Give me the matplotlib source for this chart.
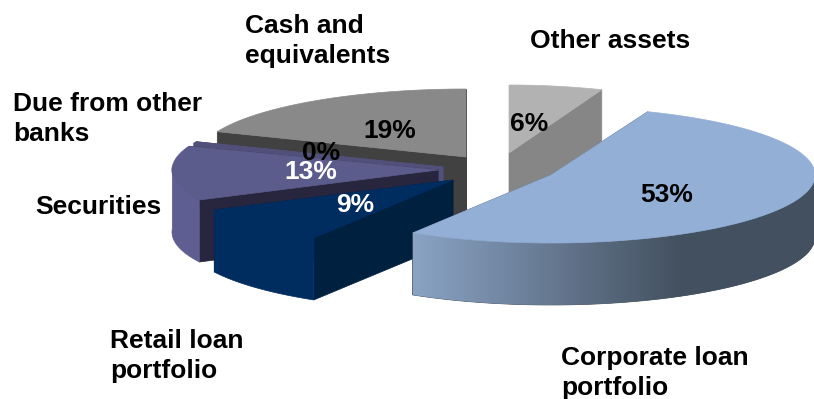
import numpy as np
import matplotlib
matplotlib.use("Agg")
import matplotlib.pyplot as plt
from matplotlib.patches import Polygon
from matplotlib.colors import LinearSegmentedColormap

plt.rcParams['font.family'] = ['Liberation Sans', 'DejaVu Sans']

# Asset structure, clockwise from twelve o'clock
categories = ["Other assets", "Corporate loan\nportfolio", "Retail loan\nportfolio",
              "Securities", "Due from other\nbanks", "Cash and\nequivalents"]
shares = [6, 53, 9, 13, 0.4, 19]
share_labels = ["6%", "53%", "9%", "13%", "0%", "19%"]

# Styling of the tilted, exploded slices
RY, DEPTH = 68, 62
radii = [253, 264, 266, 266, 266, 268]
apex = [(509, 153), (551, 175), (453, 180), (438, 170), (443, 167), (466, 157)]
top_col = ["#b2b2b2", "#93afd6", "#002d5f", "#5c5c8c", "#50507a", "#898989"]
cut_col = ["#868686", "#43505f", "#002040", "#28263e", "#50507a", "#414141"]
rim_col = ["#868686", "#43505f", "#002d5f", "#5e5e92", "#50507a", "#414141"]
paint_order = [0, 5, 4, 3, 2, 1]

cat_xy = [(530, 41), (561, 373), (110, 356), (35, 207), (13, 119), (245, 41)]
val_xy = [(529, 124), (667, 195), (355, 205), (311, 172), (321, 153), (390, 131)]
val_col = ["black", "black", "white", "white", "black", "black"]

fig = plt.figure(figsize=(8.14, 3.99), dpi=100)
ax = fig.add_axes([0, 0, 1, 1])

ends = np.cumsum(shares) / np.sum(shares) * 2 * np.pi
starts = np.concatenate(([0], ends[:-1]))


def draw_slice(i, z):
    c, rx = apex[i], radii[i]
    t = np.linspace(starts[i], ends[i], 160)
    x, y = c[0] + rx * np.sin(t), c[1] - RY * np.cos(t)
    # flat cut faces, farther one first
    for tc in sorted((starts[i], ends[i]), key=lambda a: -np.cos(a)):
        ex, ey = c[0] + rx * np.sin(tc), c[1] - RY * np.cos(tc)
        ax.add_patch(Polygon([c, (ex, ey), (ex, ey + DEPTH), (c[0], c[1] + DEPTH)],
                             closed=True, fc=cut_col[i], ec=cut_col[i], lw=0.5, zorder=z))
    # outer rim, only where it faces the viewer
    mask = np.cos(t) < 0.05
    if mask.any():
        xs, ys = x[mask], y[mask]
        pts = np.vstack([np.c_[xs, ys], np.c_[xs[::-1], ys[::-1] + DEPTH]])
        rim = Polygon(pts, closed=True, fc=rim_col[i], ec=rim_col[i], lw=0.5, zorder=z)
        ax.add_patch(rim)
        if i == 1:
            # the large slice's rim darkens from left to right
            cmap = LinearSegmentedColormap.from_list("rim", ["#8aa3c4", "#43505f", "#43505f"])
            im = ax.imshow(np.linspace(0, 1, 256)[None, :], cmap=cmap, aspect="auto",
                           extent=(xs.min(), 950, ys.max() + DEPTH, ys.min()), zorder=z)
            im.set_clip_path(rim)
    # top face
    ax.add_patch(Polygon(np.vstack([c, np.c_[x, y]]), closed=True,
                         fc=top_col[i], ec=top_col[i], lw=0.5, zorder=z + 0.5))


for z, i in enumerate(paint_order, start=1):
    draw_slice(i, z)

ax.set_xlim(0, 814)
ax.set_ylim(399, 0)
ax.axis("off")

for name, (x, y) in zip(categories, cat_xy):
    ax.text(x, y, name, fontsize=19, fontweight="bold", ha="left", va="center",
            linespacing=1.35, color="black", zorder=20)
for lab, (x, y), col in zip(share_labels, val_xy, val_col):
    ax.text(x, y, lab, fontsize=19, fontweight="bold", ha="center", va="center",
            color=col, zorder=20)

fig.savefig("out.png", dpi=100)
